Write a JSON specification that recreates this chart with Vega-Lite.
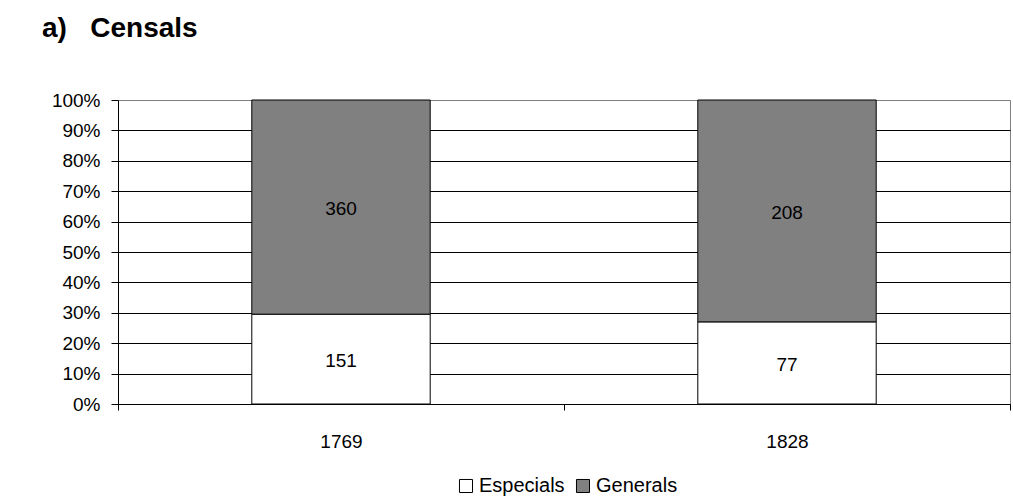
{
  "$schema": "https://vega.github.io/schema/vega-lite/v6.json",
  "autosize": {"type": "none"},
  "width": 892,
  "height": 304,
  "padding": {"left": 118, "top": 100, "right": 3, "bottom": 93},
  "background": "white",
  "title": {
    "text": "a)\u00a0\u00a0\u00a0Censals",
    "anchor": "start",
    "frame": "group",
    "font": "Liberation Sans",
    "fontSize": 28,
    "fontWeight": "bold",
    "color": "black",
    "baseline": "alphabetic",
    "dx": -76,
    "offset": 26
  },
  "config": {
    "font": "Liberation Sans",
    "view": {"stroke": "#808080", "strokeWidth": 1},
    "axis": {
      "labelFont": "Liberation Sans",
      "labelFontSize": 19,
      "labelColor": "black",
      "domainColor": "black",
      "tickColor": "black",
      "labelOverlap": false,
      "title": null
    }
  },
  "data": {
    "values": [
      {"year": "1769", "type": "Especials", "n": 151},
      {"year": "1769", "type": "Generals", "n": 360},
      {"year": "1828", "type": "Especials", "n": 77},
      {"year": "1828", "type": "Generals", "n": 208}
    ]
  },
  "transform": [
    {"stack": "n", "groupby": ["year"], "sort": [{"field": "type", "order": "ascending"}], "offset": "normalize", "as": ["y0", "y1"]},
    {"calculate": "(datum.y0 + datum.y1) / 2", "as": "ymid"}
  ],
  "encoding": {
    "x": {
      "field": "year",
      "type": "nominal",
      "scale": {"paddingInner": 0, "paddingOuter": 0},
      "axis": {
        "labelAngle": 0,
        "tickBand": "extent",
        "tickSize": 6,
        "labelPadding": 22,
        "grid": false
      }
    }
  },
  "layer": [
    {
      "mark": {"type": "bar", "stroke": "black", "strokeWidth": 1, "width": {"band": 0.4}},
      "encoding": {
        "y": {
          "field": "y0",
          "type": "quantitative",
          "scale": {"domain": [0, 1], "nice": false},
          "axis": {
            "format": ".0%",
            "values": [0, 0.1, 0.2, 0.3, 0.4, 0.5, 0.6, 0.7, 0.8, 0.9, 1],
            "tickSize": 7,
            "labelPadding": 11,
            "labelOverlap": false,
            "grid": true,
            "gridColor": {"condition": {"test": "datum.value >= 1", "value": "#808080"}, "value": "black"},
            "gridOpacity": 1,
            "gridWidth": 1
          }
        },
        "y2": {"field": "y1"},
        "color": {
          "field": "type",
          "type": "nominal",
          "scale": {"domain": ["Especials", "Generals"], "range": ["#ffffff", "#808080"]},
          "legend": {
            "title": null,
            "orient": "none",
            "direction": "horizontal",
            "legendX": 338,
            "legendY": 376,
            "symbolType": "square",
            "symbolSize": 170,
            "symbolStrokeColor": "black",
            "symbolStrokeWidth": 1,
            "labelFontSize": 20,
            "labelColor": "black",
            "labelFont": "Liberation Sans",
            "columnPadding": 8,
            "symbolOffset": 0,
            "labelOffset": 3
          }
        }
      }
    },
    {
      "mark": {"type": "text", "font": "Liberation Sans", "fontSize": 19, "color": "black", "baseline": "middle", "dy": 2},
      "encoding": {
        "y": {
          "field": "ymid",
          "type": "quantitative",
          "axis": {
            "format": ".0%",
            "values": [0, 0.1, 0.2, 0.3, 0.4, 0.5, 0.6, 0.7, 0.8, 0.9, 1],
            "tickSize": 7,
            "labelPadding": 11,
            "labelOverlap": false,
            "grid": true,
            "gridColor": {"condition": {"test": "datum.value >= 1", "value": "#808080"}, "value": "black"},
            "gridOpacity": 1,
            "gridWidth": 1
          }
        },
        "text": {"field": "n", "type": "quantitative"}
      }
    }
  ]
}
